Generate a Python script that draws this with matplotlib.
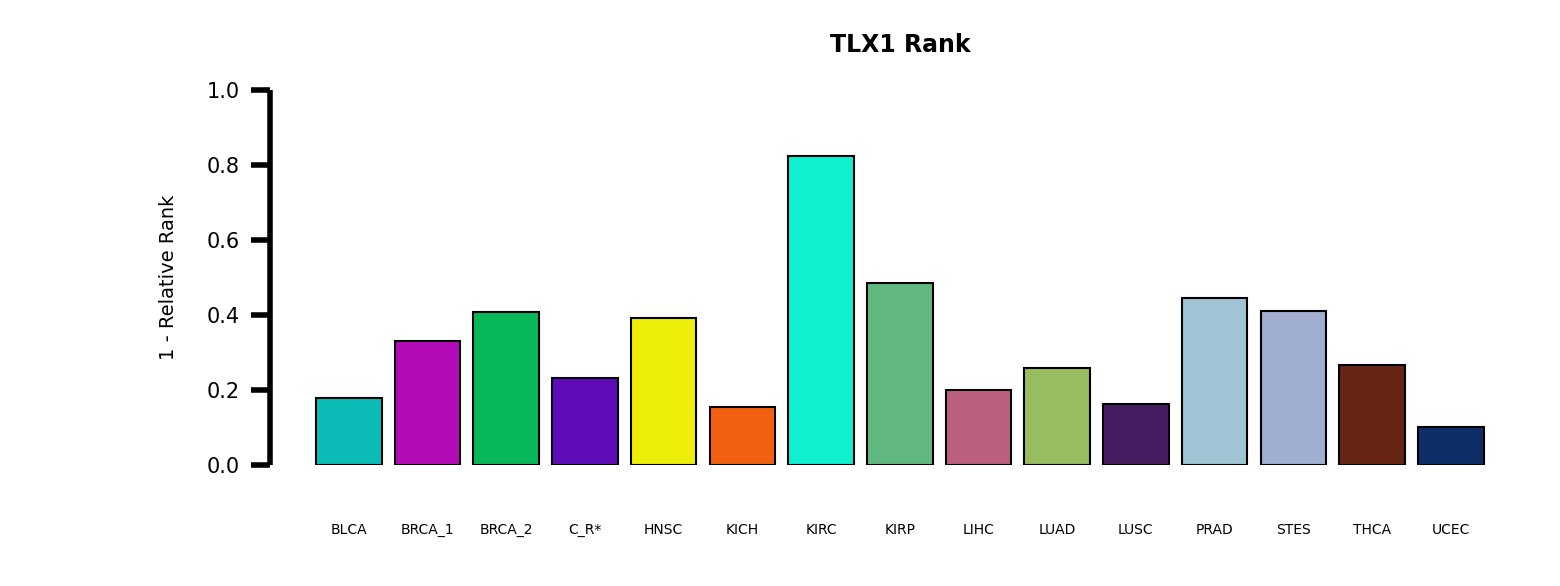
import matplotlib.pyplot as plt
import numpy as np

# data
categories = ['BLCA', 'BRCA_1', 'BRCA_2', 'C_R*', 'HNSC', 'KICH', 'KIRC', 'KIRP',
              'LIHC', 'LUAD', 'LUSC', 'PRAD', 'STES', 'THCA', 'UCEC']
values = [0.179, 0.331, 0.408, 0.232, 0.392, 0.155, 0.824, 0.485,
          0.200, 0.259, 0.163, 0.445, 0.411, 0.267, 0.101]
colors = ['#0BBBB5', '#B40BB8', '#08B858', '#5E0BB8', '#EEEE0B', '#F06010',
          '#0EF0D0', '#60B880', '#BC6080', '#98BC60', '#461C60', '#A0C4D4',
          '#A0AED2', '#662512', '#0E2E68']
yticks = [0.0, 0.2, 0.4, 0.6, 0.8, 1.0]

W, H = 1560, 586
fig = plt.figure(figsize=(W / 100, H / 100), dpi=100)
ax = fig.add_axes([270 / W, 1 - 465 / H, (1500 - 270) / W, (465 - 90) / H])

# barplot-style positions: width 1, space 0.2
x = 0.7 + 1.2 * np.arange(len(categories))
ax.bar(x, values, width=1.0, color=colors, edgecolor='black', linewidth=1.5)

ax.set_xlim(-0.5, 18.25)
ax.set_ylim(0, 1)
for s in ['top', 'right', 'bottom']:
    ax.spines[s].set_visible(False)
ax.spines['left'].set_linewidth(4)
ax.spines['left'].set_capstyle('butt')
ax.set_yticks(yticks)
ax.set_yticklabels([f'{t:.1f}' for t in yticks], fontsize=15)
ax.tick_params(axis='y', width=4, length=14, pad=8)
ax.set_xticks(x)
ax.set_xticklabels(categories, fontsize=10)
ax.tick_params(axis='x', length=0, pad=42)
ax.set_ylabel('1 - Relative Rank', fontsize=14, labelpad=20)
fig.text(900 / W, 1 - 45 / H, 'TLX1 Rank', ha='center', va='center',
         fontsize=17, fontweight='bold')

plt.savefig('out.png')
